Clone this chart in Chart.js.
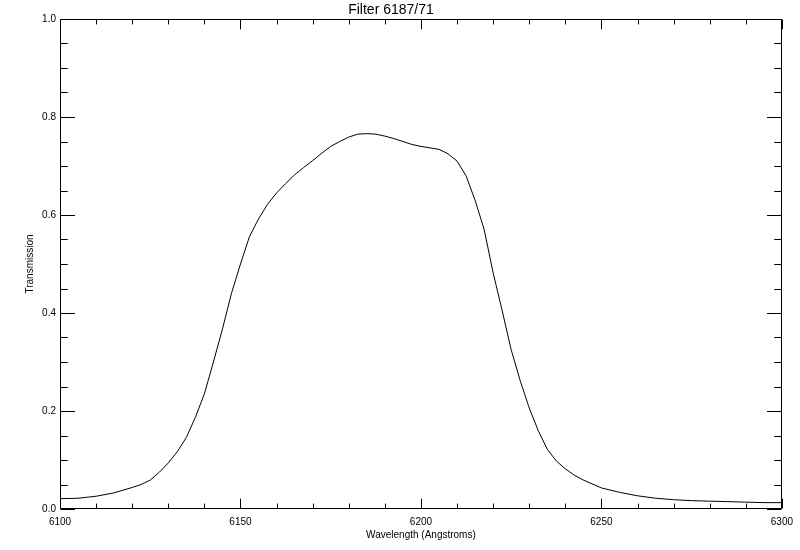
<!DOCTYPE html>
<html>
<head>
<meta charset="utf-8">
<script src="https://cdn.jsdelivr.net/npm/chart.js@4/dist/chart.umd.min.js"></script>
<style>
  html, body { margin: 0; padding: 0; background: #fff; }
  #wrap { width: 800px; height: 550px; }
</style>
</head>
<body>
<div id="wrap"><canvas id="c" width="800" height="550"></canvas></div>
<script>
const titleText = 'Filter 6187/71';
const xTitle = 'Wavelength (Angstroms)';
const yTitle = 'Transmission';

const wavelength = [
  6100, 6105, 6110, 6115, 6120, 6122.5, 6125, 6127.5, 6130, 6132.5,
  6135, 6137.5, 6140, 6142.5, 6145, 6147.5, 6150, 6152.5, 6155, 6157.5,
  6160, 6162.5, 6165, 6167.5, 6170, 6172.5, 6175, 6177.5, 6180, 6182.5,
  6185, 6187.5, 6190, 6192.5, 6195, 6197.5, 6200, 6202.5, 6205, 6207.5,
  6210, 6212.5, 6215, 6217.5, 6220, 6222.5, 6225, 6227.5, 6230, 6232.5,
  6235, 6237.5, 6240, 6242.5, 6245, 6250, 6255, 6260, 6265, 6270,
  6275, 6280, 6285, 6290, 6295, 6300
];
const transmission = [
  0.021, 0.022, 0.026, 0.033, 0.044, 0.050, 0.059, 0.075, 0.094, 0.117,
  0.146, 0.187, 0.235, 0.300, 0.367, 0.440, 0.500, 0.556, 0.592, 0.622,
  0.645, 0.664, 0.682, 0.697, 0.711, 0.726, 0.740, 0.750, 0.759, 0.765,
  0.766, 0.765, 0.761, 0.756, 0.750, 0.744, 0.740, 0.737, 0.734, 0.725,
  0.710, 0.680, 0.630, 0.571, 0.482, 0.405, 0.325, 0.262, 0.206, 0.160,
  0.122, 0.098, 0.082, 0.069, 0.059, 0.043, 0.034, 0.027, 0.022, 0.019,
  0.017, 0.016, 0.015, 0.014, 0.013, 0.013
];

const xMin = 6100, xMax = 6300, xMajorStep = 50, xMinorStep = 10;
const yMin = 0, yMax = 1.0, yMajorStep = 0.2, yMinorStep = 0.05;

const FONT = '"Liberation Sans", Arial, sans-serif';

function range(a, b, s) {
  const out = [];
  const n = Math.round((b - a) / s);
  for (let i = 0; i <= n; i++) out.push(a + i * s);
  return out;
}

const idlAxes = {
  id: 'idlAxes',
  afterDraw(chart) {
    const {ctx, chartArea: ca, scales} = chart;
    const xs = scales.x, ys = scales.y;
    const w = ca.right - ca.left, h = ca.bottom - ca.top;
    const xMajLen = 0.02 * h, xMinLen = 0.01 * h;
    const yMajLen = 0.02 * w, yMinLen = 0.01 * w;
    ctx.save();
    ctx.strokeStyle = '#000';
    ctx.lineWidth = 1;
    ctx.beginPath();
    const L = Math.round(ca.left) + 0.5, R = Math.round(ca.right) - 0.5;
    const T = Math.round(ca.top) + 0.5, B = Math.round(ca.bottom) - 0.5;
    ctx.rect(L, T, R - L, B - T);
    const majX = range(xMin, xMax, xMajorStep);
    range(xMin, xMax, xMinorStep).forEach(v => {
      const isMaj = majX.some(m => Math.abs(m - v) < 1e-6);
      const len = isMaj ? xMajLen : xMinLen;
      const px = Math.round(xs.getPixelForValue(v)) + 0.5;
      ctx.moveTo(px, B); ctx.lineTo(px, B - len);
      ctx.moveTo(px, T); ctx.lineTo(px, T + len);
    });
    const majY = range(yMin, yMax, yMajorStep);
    range(yMin, yMax, yMinorStep).forEach(v => {
      const isMaj = majY.some(m => Math.abs(m - v) < 1e-6);
      const len = isMaj ? yMajLen : yMinLen;
      const py = Math.round(ys.getPixelForValue(v)) + 0.5;
      ctx.moveTo(L, py); ctx.lineTo(L + len, py);
      ctx.moveTo(R, py); ctx.lineTo(R - len, py);
    });
    ctx.stroke();
    ctx.restore();
  }
};

new Chart(document.getElementById('c'), {
  type: 'scatter',
  data: {
    datasets: [{
      data: wavelength.map((x, i) => ({x, y: transmission[i]})),
      showLine: true,
      borderColor: '#000',
      borderWidth: 1,
      pointRadius: 0,
      tension: 0,
      fill: false
    }]
  },
  options: {
    responsive: false,
    animation: false,
    devicePixelRatio: 1,
    layout: { padding: { left: 0, right: 18, top: 0, bottom: 0 } },
    plugins: {
      legend: { display: false },
      tooltip: { enabled: false },
      title: {
        display: true,
        text: titleText,
        color: '#000',
        font: { family: FONT, size: 14, weight: 'normal', lineHeight: 1.2 },
        padding: { top: 2, bottom: 0.2 }
      }
    },
    scales: {
      x: {
        type: 'linear',
        min: xMin, max: xMax,
        grid: { display: false, drawTicks: false },
        border: { display: false },
        ticks: {
          stepSize: xMajorStep,
          color: '#000',
          font: { family: FONT, size: 10 },
          padding: 7,
          maxRotation: 0,
          autoSkip: false,
          callback: v => String(v)
        },
        title: {
          display: true, text: xTitle, color: '#000',
          font: { family: FONT, size: 10 },
          padding: { top: 0, bottom: 9 }
        },
        afterFit(scale) { scale.height = 41; }
      },
      y: {
        type: 'linear',
        min: yMin, max: yMax,
        grid: { display: false, drawTicks: false },
        border: { display: false },
        ticks: {
          stepSize: yMajorStep,
          color: '#000',
          font: { family: FONT, size: 10 },
          padding: 4,
          autoSkip: false,
          callback: v => v.toFixed(1)
        },
        title: {
          display: true, text: yTitle, color: '#000',
          font: { family: FONT, size: 10 },
          padding: { top: 24, bottom: 0 }
        },
        afterFit(scale) { scale.width = 60; }
      }
    }
  },
  plugins: [idlAxes]
});
</script>
</body>
</html>
